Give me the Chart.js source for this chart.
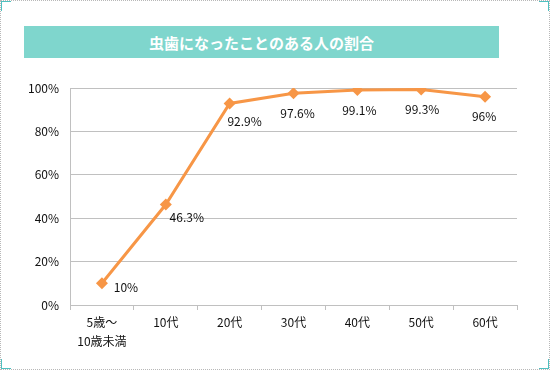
<!DOCTYPE html>
<html lang="ja">
<head>
<meta charset="utf-8">
<title>虫歯になったことのある人の割合</title>
<script src="https://cdn.jsdelivr.net/npm/chart.js@4/dist/chart.umd.min.js"></script>
<style>
    html, body { margin: 0; padding: 0; background: #fff; }
    #frame {
        position: relative;
        width: 550px;
        height: 370px;
        box-sizing: border-box;
        border: 1px dotted #b8b8b8;
        overflow: hidden;
    }
    .corner { position: absolute; width: 9px; height: 9px; border: 0 solid #4fc0c0; }
    .tl { left: -1px; top: -1px; border-left-width: 2px; border-top-width: 2px; }
    .tr { right: -1px; top: -1px; border-right-width: 2px; border-top-width: 2px; }
    .bl { left: -1px; bottom: -1px; border-left-width: 2px; border-bottom-width: 2px; }
    .br { right: -1px; bottom: -1px; border-right-width: 2px; border-bottom-width: 2px; }
    #banner {
        position: absolute;
        left: 23px;
        top: 25px;
        width: 475px;
        height: 32px;
        background: #7fd6cd;
        color: #fff;
        font: bold 15px "Noto Sans CJK JP", sans-serif;
        line-height: 33px;
        text-align: center;
        z-index: 2;
    }
    #chart { position: absolute; left: -1px; top: -1px; }
</style>
</head>
<body>
<div id="frame">
    <div class="corner tl"></div>
    <div class="corner tr"></div>
    <div class="corner bl"></div>
    <div class="corner br"></div>
    <div id="banner"></div>
    <canvas id="chart" width="550" height="370"></canvas>
</div>

<script>
// ========================================
// Data
// ========================================

const chartTitle = '虫歯になったことのある人の割合';
const categories = [['5歳～', '10歳未満'], '10代', '20代', '30代', '40代', '50代', '60代'];
const rates = [10, 46.3, 92.9, 97.6, 99.1, 99.3, 96];
const rateLabels = ['10%', '46.3%', '92.9%', '97.6%', '99.1%', '99.3%', '96%'];
const yTicks = [0, 20, 40, 60, 80, 100];

// label nudges (px) so the values sit clear of the line
const labelDx = [24, 21, 15, 4, 2, 1, -1];
const labelDy = [4, 13, 18, 20, 20, 20, 20];

const FONT = '"Noto Sans CJK JP", "Noto Sans", sans-serif';
const ORANGE = '#f79646';
const GRID = '#c0c0c0';

document.getElementById('banner').textContent = chartTitle;

// ========================================
// Value labels
// ========================================

const valueLabels = {
    id: 'valueLabels',
    afterDatasetsDraw(chart) {
        const ctx = chart.ctx;
        const meta = chart.getDatasetMeta(0);
        ctx.save();
        ctx.font = '12px ' + FONT;
        ctx.fillStyle = '#111';
        ctx.textAlign = 'center';
        ctx.textBaseline = 'middle';
        meta.data.forEach((pt, i) => {
            ctx.fillText(rateLabels[i], pt.x + labelDx[i], pt.y + labelDy[i]);
        });
        ctx.restore();
    }
};

// ========================================
// Chart
// ========================================

new Chart(document.getElementById('chart'), {
    type: 'line',
    data: {
        labels: categories,
        datasets: [{
            data: rates,
            borderColor: ORANGE,
            backgroundColor: ORANGE,
            borderWidth: 3,
            pointStyle: 'rectRot',
            pointRadius: 6,
            pointBorderWidth: 0,
            tension: 0
        }]
    },
    options: {
        responsive: false,
        animation: false,
        layout: { padding: { top: 88, right: 33, bottom: 0, left: 0 } },
        plugins: {
            legend: { display: false },
            tooltip: { enabled: false }
        },
        scales: {
            x: {
                offset: true,
                afterFit: s => { s.height = 65; },
                grid: {
                    offset: true,
                    drawOnChartArea: false,
                    color: GRID,
                    tickLength: 5,
                    tickColor: GRID
                },
                border: { color: GRID },
                ticks: {
                    color: '#111',
                    padding: 3,
                    maxRotation: 0,
                    autoSkip: false,
                    font: { family: FONT, size: 12, lineHeight: 1.6 }
                }
            },
            y: {
                min: 0,
                max: 100,
                afterFit: s => { s.width = 70; },
                afterBuildTicks: s => { s.ticks = yTicks.map(v => ({ value: v })); },
                grid: { color: GRID, drawTicks: false },
                border: { color: GRID },
                ticks: {
                    color: '#111',
                    padding: 11,
                    font: { family: FONT, size: 12 },
                    callback: v => v + '%'
                }
            }
        }
    },
    plugins: [valueLabels]
});
</script>
</body>
</html>
